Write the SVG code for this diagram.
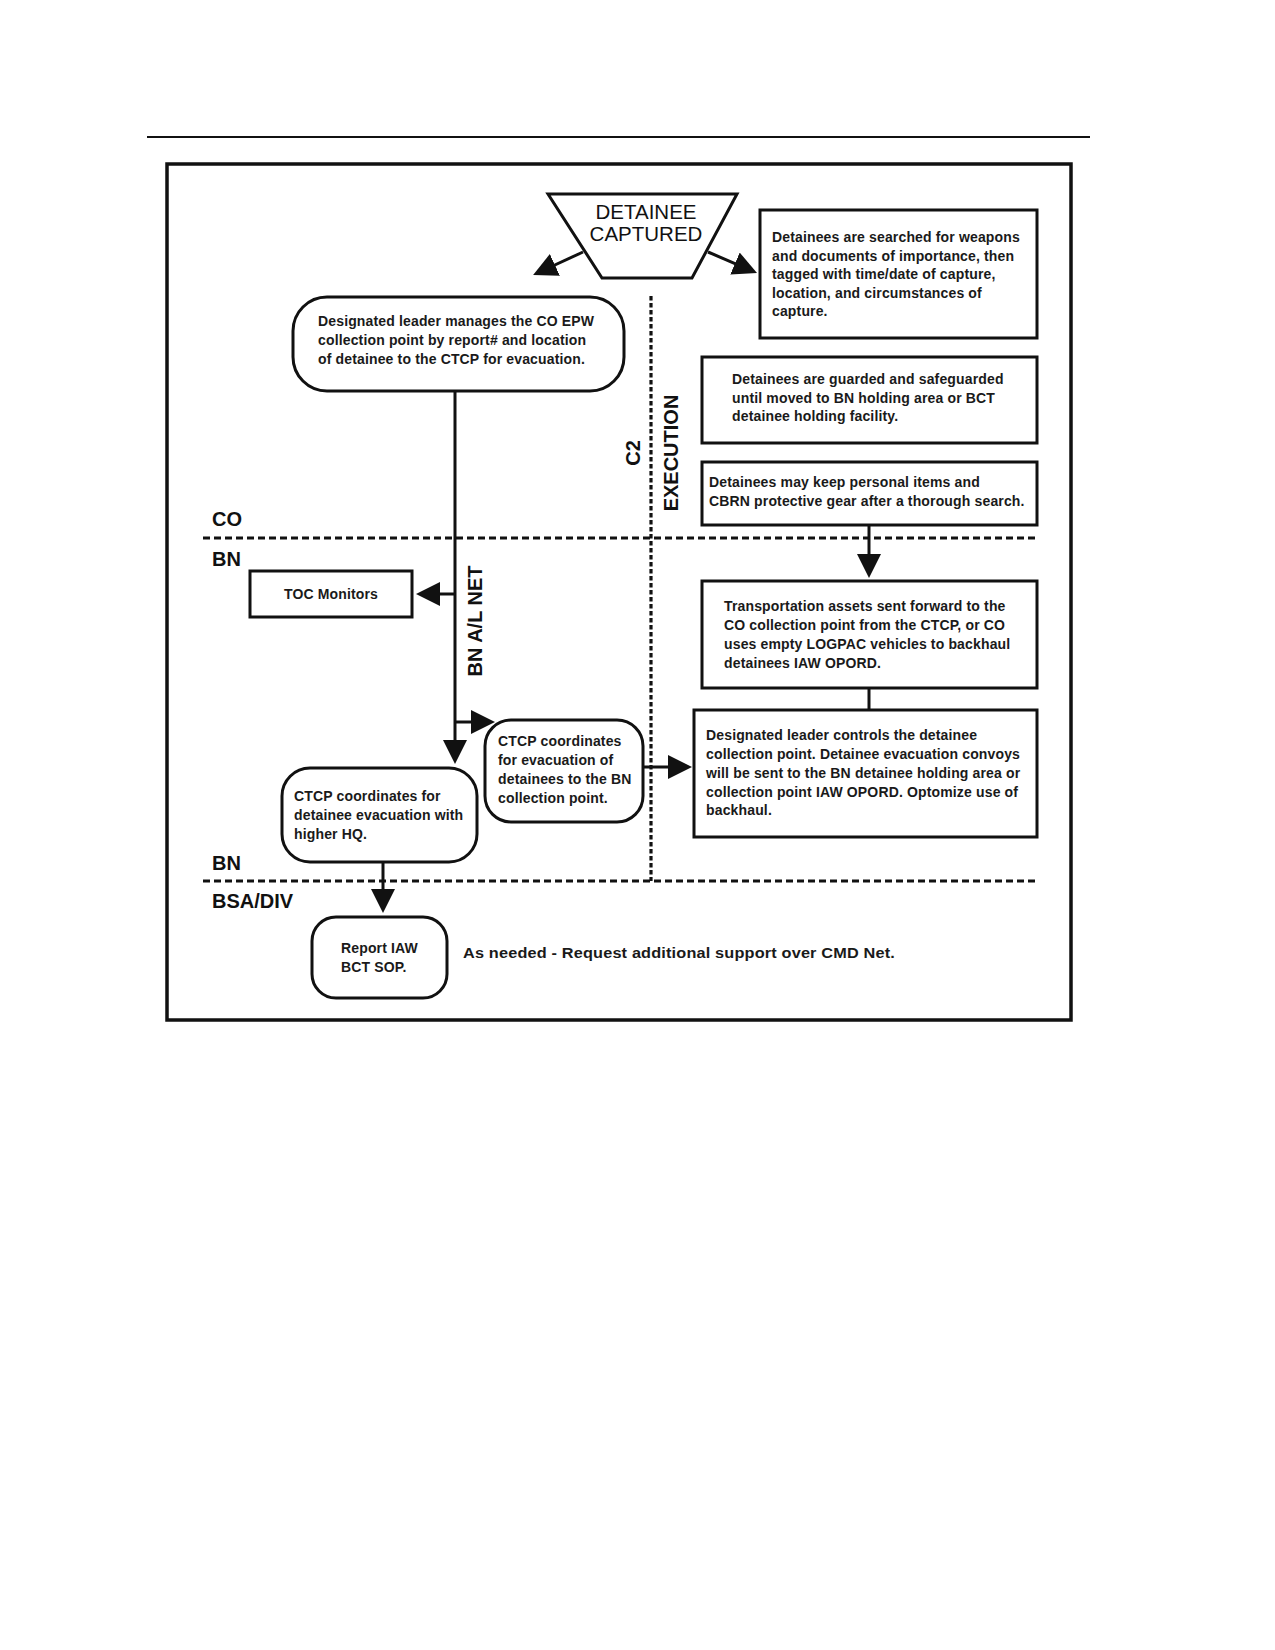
<svg xmlns="http://www.w3.org/2000/svg" width="1275" height="1650" viewBox="0 0 1275 1650">
<defs>
<marker id="ah" markerUnits="userSpaceOnUse" markerWidth="24" markerHeight="24" refX="12" refY="12" orient="auto" viewBox="0 0 24 24"><path d="M0,0 L24,12 L0,24 z" fill="#111"/></marker>
</defs>
<style>
.box{fill:#fff;stroke:#111;stroke-width:3}
.t{font-family:"Liberation Sans",Arial,sans-serif;font-size:14px;font-weight:bold;fill:#1a1a1a;letter-spacing:0.15px}
.lbl{font-family:"Liberation Sans",Arial,sans-serif;font-size:20px;font-weight:bold;fill:#111}
.con{fill:none;stroke:#111;stroke-width:3}
.dash{fill:none;stroke:#111;stroke-width:3;stroke-dasharray:7 4}
.dot{fill:none;stroke:#111;stroke-width:3.2;stroke-dasharray:4.5 2.5}
</style>
<rect x="0" y="0" width="1275" height="1650" fill="#fff"/>
<line x1="147" y1="137" x2="1090" y2="137" stroke="#111" stroke-width="2"/>
<rect x="167" y="164" width="904" height="856" fill="none" stroke="#111" stroke-width="3.5"/>

<g id="lanes">
<line class="dash" x1="203" y1="538" x2="1036" y2="538"/>
<line class="dash" x1="203" y1="881" x2="1036" y2="881"/>
<line class="dot" x1="651" y1="296" x2="651" y2="881"/>
<text class="lbl" x="212" y="526">CO</text>
<text class="lbl" x="212" y="566">BN</text>
<text class="lbl" x="212" y="870">BN</text>
<text class="lbl" x="212" y="908">BSA/DIV</text>
<text class="lbl" font-size="19" text-anchor="middle" transform="translate(640,453) rotate(-90)">C2</text>
<text class="lbl" text-anchor="middle" transform="translate(678,453) rotate(-90)">EXECUTION</text>
<text class="lbl" text-anchor="middle" transform="translate(482,621) rotate(-90)">BN A/L NET</text>
</g>

<g id="connectors">
<line class="con" x1="583" y1="252" x2="544" y2="270" marker-end="url(#ah)"/>
<line class="con" x1="708" y1="252" x2="746" y2="268.3" marker-end="url(#ah)"/>
<line class="con" x1="455" y1="391" x2="455" y2="752" marker-end="url(#ah)"/>
<line class="con" x1="455" y1="594" x2="428" y2="594" marker-end="url(#ah)"/>
<polyline class="con" points="455,722 483,722" marker-end="url(#ah)"/>
<line class="con" x1="869" y1="525" x2="869" y2="566" marker-end="url(#ah)"/>
<line class="con" x1="869" y1="688" x2="869" y2="710"/>
<line class="con" x1="643" y1="767" x2="680" y2="767" marker-end="url(#ah)"/>
<line class="con" x1="383" y1="862" x2="383" y2="901" marker-end="url(#ah)"/>
</g>

<g id="detainee-captured">
<polygon points="548,194 737,194 692,278 602,278" fill="#fff" stroke="#111" stroke-width="3"/>
<text font-family="Liberation Sans, Arial, sans-serif" font-size="20.5" fill="#111" text-anchor="middle" x="646" y="219">DETAINEE</text>
<text font-family="Liberation Sans, Arial, sans-serif" font-size="20.5" fill="#111" text-anchor="middle" x="646" y="241">CAPTURED</text>
</g>

<g id="searched">
<rect class="box" x="760" y="210" width="277" height="128"/>
<text class="t" x="772" y="242">Detainees are searched for weapons</text>
<text class="t" x="772" y="261">and documents of importance, then</text>
<text class="t" x="772" y="279">tagged with time/date of capture,</text>
<text class="t" x="772" y="298">location, and circumstances of</text>
<text class="t" x="772" y="316">capture.</text>
</g>

<g id="guarded">
<rect class="box" x="702" y="357" width="335" height="86"/>
<text class="t" x="732" y="384">Detainees are guarded and safeguarded</text>
<text class="t" x="732" y="403">until moved to BN holding area or BCT</text>
<text class="t" x="732" y="421">detainee holding facility.</text>
</g>

<g id="personal-items">
<rect class="box" x="702" y="462" width="335" height="63"/>
<text class="t" x="709" y="487">Detainees may keep personal items and</text>
<text class="t" x="709" y="506">CBRN protective gear after a thorough search.</text>
</g>

<g id="designated-manages">
<rect class="box" x="293" y="297" width="331" height="94" rx="34" ry="34"/>
<text class="t" x="318" y="326">Designated leader manages the CO EPW</text>
<text class="t" x="318" y="345">collection point by report# and location</text>
<text class="t" x="318" y="364">of detainee to the CTCP for evacuation.</text>
</g>

<g id="toc-monitors">
<rect class="box" x="250" y="571" width="162" height="46"/>
<text class="t" x="331" y="599" text-anchor="middle">TOC Monitors</text>
</g>

<g id="transportation">
<rect class="box" x="702" y="581" width="335" height="107"/>
<text class="t" x="724" y="611">Transportation assets sent forward to the</text>
<text class="t" x="724" y="630">CO collection point from the CTCP, or CO</text>
<text class="t" x="724" y="649">uses empty LOGPAC vehicles to backhaul</text>
<text class="t" x="724" y="668">detainees IAW OPORD.</text>
</g>

<g id="designated-controls">
<rect class="box" x="694" y="710" width="343" height="127"/>
<text class="t" x="706" y="740">Designated leader controls the detainee</text>
<text class="t" x="706" y="759">collection point. Detainee evacuation convoys</text>
<text class="t" x="706" y="778">will be sent to the BN detainee holding area or</text>
<text class="t" x="706" y="797">collection point IAW OPORD. Optomize use of</text>
<text class="t" x="706" y="815">backhaul.</text>
</g>

<g id="ctcp-bn">
<rect class="box" x="485" y="720" width="158" height="102" rx="26" ry="26"/>
<text class="t" x="498" y="746">CTCP coordinates</text>
<text class="t" x="498" y="765">for evacuation of</text>
<text class="t" x="498" y="784">detainees to the BN</text>
<text class="t" x="498" y="803">collection point.</text>
</g>

<g id="ctcp-hq">
<rect class="box" x="282" y="768" width="195" height="94" rx="28" ry="28"/>
<text class="t" x="294" y="801">CTCP coordinates for</text>
<text class="t" x="294" y="820">detainee evacuation with</text>
<text class="t" x="294" y="839">higher HQ.</text>
</g>

<g id="report">
<rect class="box" x="312" y="917" width="135" height="81" rx="24" ry="24"/>
<text class="t" x="341" y="953">Report IAW</text>
<text class="t" x="341" y="972">BCT SOP.</text>
</g>

<g id="as-needed">
<text class="t" font-size="16" x="463" y="958" textLength="432" lengthAdjust="spacingAndGlyphs">As needed - Request additional support over CMD Net.</text>
</g>
</svg>
